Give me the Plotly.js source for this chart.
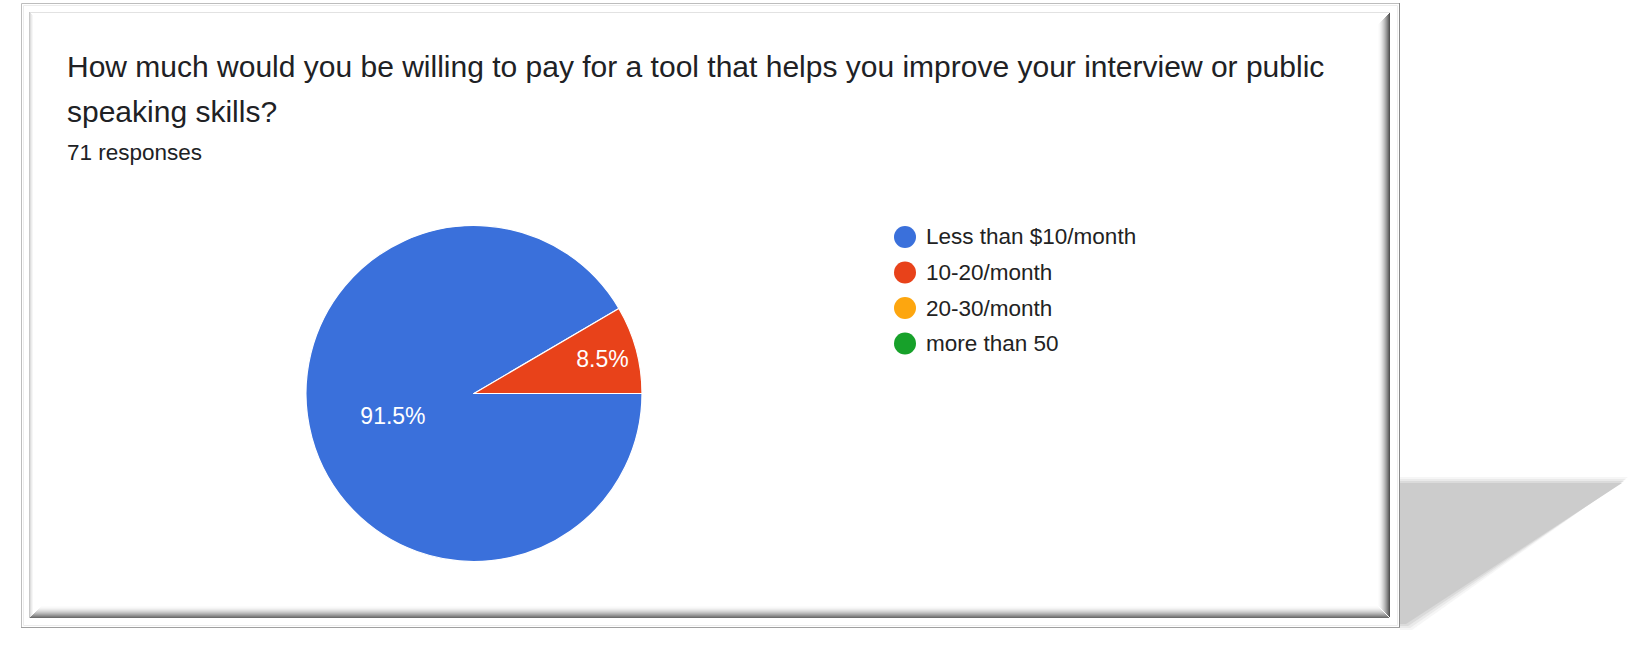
<!DOCTYPE html>
<html>
<head>
<meta charset="utf-8">
<script src="https://cdn.plot.ly/plotly-3.0.1.min.js"></script>
<style>
  html, body { margin: 0; padding: 0; background: #ffffff; }
  #chart { width: 1650px; height: 653px; }
</style>
</head>
<body>
<div id="chart"></div>
<script>
// ---- data ----
const categories = ['Less than $10/month', '10-20/month', '20-30/month', 'more than 50'];
const responses = [65, 6, 0, 0];
const sliceColors = ['#3a70db', '#e8421a', '#fda60f', '#17a12a'];
const questionLines = ['How much would you be willing to pay for a tool that helps you improve your interview or public', 'speaking skills?'];
const responseCountText = '71 responses';

// ---- helpers (pixel -> paper) ----
const W = 1650, H = 653;
const px = x => x / W;
const py = y => 1 - y / H;
const FONT = '"Liberation Sans", Arial, sans-serif';

const pie = {
  type: 'pie',
  labels: categories,
  values: responses,
  sort: false,
  direction: 'clockwise',
  rotation: 90,
  marker: { colors: sliceColors, line: { color: '#ffffff', width: 1.2 } },
  textposition: 'inside',
  texttemplate: responses.map(v => v > 0 ? '%{percent:.1%}' : ''),
  insidetextorientation: 'horizontal',
  textfont: { family: FONT, size: 23, color: '#ffffff' },
  hoverinfo: 'label+value+percent',
  showlegend: false,
  domain: { x: [px(306), px(642)], y: [py(561.5), py(225.5)] }
};

const shapes = [];
const annotations = [];

// shadow behind the frame (soft edges via layered polygons)
function shadowPath(e) {
  return 'M ' + px(1400) + ',' + py(483 - e) + ' L ' + px(1622 + e) + ',' + py(483 - e) +
         ' L ' + px(1406 + e) + ',' + py(624 + e) + ' L ' + px(1400) + ',' + py(624 + e) + ' Z';
}
[[6, 0.18], [4, 0.3], [2, 0.5], [0, 1]].forEach(([e, op]) => {
  shapes.push({ type: 'path', xref: 'paper', yref: 'paper', path: shadowPath(e),
    fillcolor: '#cccccc', opacity: op, line: { width: 0 }, layer: 'below' });
});

// outer frame
shapes.push({ type: 'rect', xref: 'paper', yref: 'paper', x0: px(21.5), x1: px(1399.5), y0: py(3.5), y1: py(627.5),
  line: { color: '#bdbdbd', width: 1 }, fillcolor: '#ffffff', layer: 'below' });
shapes.push({ type: 'rect', xref: 'paper', yref: 'paper', x0: px(23.5), x1: px(1397.5), y0: py(5.5), y1: py(625.5),
  line: { color: '#ececec', width: 1 }, layer: 'below' });
// darker right / bottom edge of outer frame
shapes.push({ type: 'line', xref: 'paper', yref: 'paper', x0: px(1399.5), x1: px(1399.5), y0: py(3), y1: py(628),
  line: { color: '#8a8a8a', width: 1 }, layer: 'below' });
shapes.push({ type: 'line', xref: 'paper', yref: 'paper', x0: px(21), x1: px(1400), y0: py(627.5), y1: py(627.5),
  line: { color: '#a0a0a0', width: 1 }, layer: 'below' });

// inner frame: top and left light edges
shapes.push({ type: 'line', xref: 'paper', yref: 'paper', x0: px(30), x1: px(1390), y0: py(12.5), y1: py(12.5),
  line: { color: '#e2e2e2', width: 1 }, layer: 'below' });
['#c8c8c8', '#dedede', '#ececec', '#f6f6f6'].forEach((c, i) => {
  shapes.push({ type: 'line', xref: 'paper', yref: 'paper', x0: px(29.5 + i), x1: px(29.5 + i),
    y0: py(12 + i), y1: py(618 - i), line: { color: c, width: 1 }, layer: 'below' });
});
// inner frame: right and bottom bevel gradients
function grey(t) {
  const v = Math.round(252 - t * 170);
  return 'rgb(' + v + ',' + v + ',' + v + ')';
}
for (let i = 0; i < 12; i++) {
  shapes.push({ type: 'line', xref: 'paper', yref: 'paper', x0: px(1378.5 + i), x1: px(1378.5 + i),
    y0: py(24 - i), y1: py(606 + i), line: { color: grey(Math.pow(i / 11, 1.6)), width: 1 }, layer: 'below' });
  shapes.push({ type: 'line', xref: 'paper', yref: 'paper', x0: px(41 - i), x1: px(1378 + i),
    y0: py(606.5 + i), y1: py(606.5 + i), line: { color: grey(0.85 * Math.pow(i / 11, 1.6)), width: 1 }, layer: 'below' });
}

// title and subtitle
questionLines.forEach((t, i) => {
  annotations.push({ text: t, xref: 'paper', yref: 'paper', x: px(65), y: py(67 + i * 45),
    xanchor: 'left', yanchor: 'middle', showarrow: false,
    font: { family: FONT, size: 30, color: '#202124' } });
});
annotations.push({ text: responseCountText, xref: 'paper', yref: 'paper', x: px(65), y: py(152),
  xanchor: 'left', yanchor: 'middle', showarrow: false,
  font: { family: FONT, size: 22.5, color: '#202124' } });

// legend built from the category arrays
categories.forEach((c, i) => {
  const cy = 237 + i * 35.5;
  shapes.push({ type: 'circle', xref: 'paper', yref: 'paper', xsizemode: 'pixel', ysizemode: 'pixel',
    xanchor: px(905), yanchor: py(cy), x0: -11, x1: 11, y0: -11, y1: 11,
    fillcolor: sliceColors[i], line: { width: 0 } });
  annotations.push({ text: c, xref: 'paper', yref: 'paper', x: px(924), y: py(cy),
    xanchor: 'left', yanchor: 'middle', showarrow: false,
    font: { family: FONT, size: 22.5, color: '#222222' } });
});

const layout = {
  width: W, height: H,
  margin: { l: 0, r: 0, t: 0, b: 0 },
  paper_bgcolor: '#ffffff',
  plot_bgcolor: '#ffffff',
  showlegend: false,
  shapes: shapes,
  annotations: annotations
};

Plotly.newPlot('chart', [pie], layout, { displayModeBar: false, staticPlot: true });
</script>
</body>
</html>
